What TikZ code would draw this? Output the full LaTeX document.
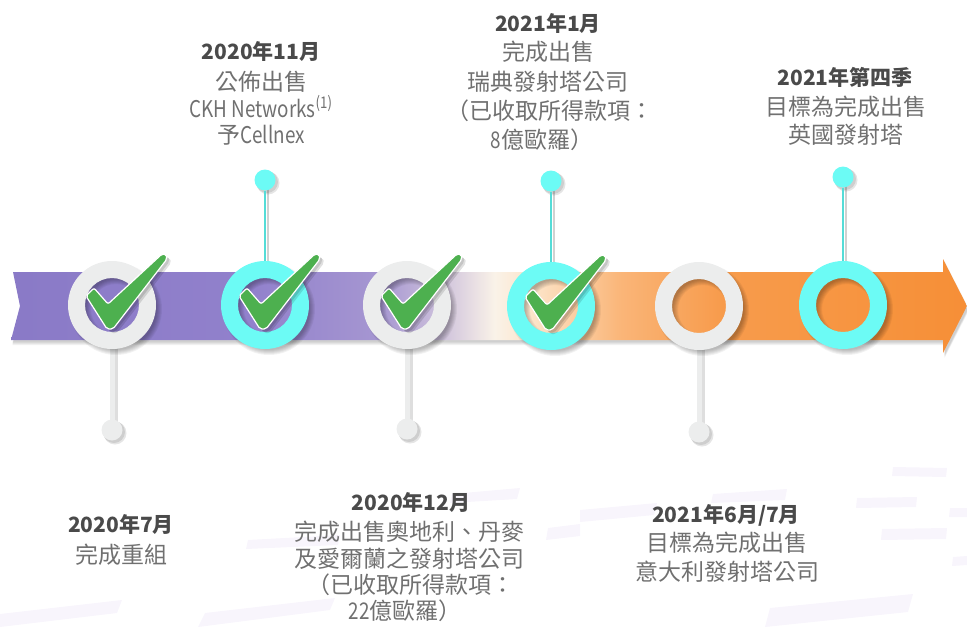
\documentclass[tikz,border=0pt]{standalone}
\usepackage{fontspec}
\setmainfont{Noto Sans CJK TC}
\definecolor{ringgray}{HTML}{ECEDED}
\definecolor{ringcyan}{HTML}{6CFBF5}
\definecolor{stemcyan}{HTML}{55DCD7}
\definecolor{checkgreen}{HTML}{4DB04F}
\definecolor{datecol}{HTML}{4A4A4A}
\definecolor{bodycol}{HTML}{707070}
\definecolor{brushcol}{HTML}{F8F5FC}
\pgfdeclarehorizontalshading{bandshade}{100bp}{rgb(0bp)=(0.540,0.478,0.780); rgb(25bp)=(0.540,0.478,0.780); rgb(37.5bp)=(0.570,0.505,0.800); rgb(44.3bp)=(0.650,0.590,0.820); rgb(47.4bp)=(0.800,0.750,0.860); rgb(50.3bp)=(0.980,0.950,0.910); rgb(52.7bp)=(0.990,0.880,0.760); rgb(56.9bp)=(0.980,0.710,0.470); rgb(62.1bp)=(0.970,0.610,0.300); rgb(75bp)=(0.965,0.560,0.215); rgb(100bp)=(0.965,0.560,0.215)}
\newcommand\cnd[1]{\scalebox{0.82}[1]{#1}}
\tikzset{
  ringnode/.style={circle,minimum size=88pt,inner sep=0pt,outer sep=0pt},
  dotgray/.style={circle,fill=ringgray,minimum size=21pt,inner sep=0pt,outer sep=0pt},
  dotcyan/.style={circle,fill=ringcyan,minimum size=21pt,inner sep=0pt,outer sep=0pt},
  stemgray/.style={draw=ringgray,line width=5pt},
  stemcyanline/.style={draw=stemcyan,line width=2.6pt},
  datetext/.style={font=\fontsize{21}{24}\selectfont\bfseries,text=datecol,inner sep=0pt,anchor=base},
  bodytext/.style={font=\fontsize{23}{28}\selectfont,text=bodycol,inner sep=0pt,anchor=base},
}
\newcommand\ringshadow[2]{%
  \foreach \k in {0,1,2,3,4,5}{%
    \fill[black,opacity=0.05,even odd rule] ($(#1)+(4,4)$) circle[radius=41+\k] ($(#1)+(4,4)$) circle[radius=30-\k];}}
\newcommand\drawring[2]{%
  \fill[#2,even odd rule] (#1) circle[radius=44] (#1) circle[radius=27];}
\newcommand\checkpath{(-26,-9) -- (-18,-17) -- (-4,-1) -- (50,-51) -- (54,-51) -- (55,-46) -- (1,24) -- (-5,24) -- cycle}
\newcommand\drawcheck[1]{%
  \begin{scope}[shift={(#1)}]
    \fill[black,opacity=0.12,rounded corners=2pt,shift={(4,4)}] \checkpath;
    \fill[black,opacity=0.12,rounded corners=2pt,shift={(2.5,2.5)}] \checkpath;
    \filldraw[fill=checkgreen,draw=white,line width=1.2pt,rounded corners=2pt] \checkpath;
  \end{scope}}
\usetikzlibrary{calc}
\begin{document}
\begin{tikzpicture}[x=1pt,y=-1pt]
\useasboundingbox (0,0) rectangle (967,627);
% faint brush strokes
\fill[brushcol] (0,614) -- (122,600) -- (117,613) -- (0,627) -- cycle;
\fill[brushcol] (205,613) -- (335,598) -- (330,610) -- (198,627) -- cycle;
\fill[brushcol] (248,540) -- (340,535) -- (338,545) -- (246,549) -- cycle;
\fill[brushcol] (452,494) -- (520,488) -- (517,499) -- (450,503) -- cycle;
\fill[brushcol] (548,528) -- (580,524) -- (580,536) -- (546,540) -- cycle;
\fill[brushcol] (580,510) -- (657,503) -- (654,515) -- (580,522) -- cycle;
\fill[brushcol] (713,494) -- (787,489) -- (785,500) -- (711,503) -- cycle;
\fill[brushcol] (893,467) -- (947,468) -- (946,477) -- (892,476) -- cycle;
\fill[brushcol] (857,498) -- (917,497) -- (916,507) -- (856,508) -- cycle;
\fill[brushcol] (882,529) -- (947,528) -- (946,539) -- (881,540) -- cycle;
\fill[brushcol] (950,508) -- (967,508) -- (967,517) -- (949,517) -- cycle;
\fill[brushcol] (953,557) -- (967,556) -- (967,565) -- (952,566) -- cycle;
\fill[brushcol] (770,608) -- (913,594) -- (908,612) -- (765,627) -- cycle;
% band shadow
\foreach \k in {1,2,3,4}{
  \fill[black,opacity=0.05,shift={(1.5,\k+1)}] (13,272) -- (943,272) -- (943,259) -- (967,306) -- (943,353) -- (943,340) -- (11,340) -- (20,306) -- cycle;}
% band
\shade[shading=bandshade] (13,272) -- (943,272) -- (943,259) -- (967,306) -- (943,353) -- (943,340) -- (11,340) -- (20,306) -- cycle;
% ring positions
\node[ringnode] (r1) at (112,305) {};
\node[ringnode] (r2) at (265,305) {};
\node[ringnode] (r3) at (407,305) {};
\node[ringnode] (r4) at (551,306) {};
\node[ringnode] (r5) at (699,306) {};
\node[ringnode] (r6) at (843,305) {};
% stem and dot shadows
\foreach \x/\y/\yy in {112/349/430,407/349/429,699/350/432}{
  \draw[black,opacity=0.13,line width=5pt] (\x+3.5,\y) -- (\x+3.5,\yy);
  \fill[black,opacity=0.10] (\x+3,\yy+3) circle[radius=11.5];
  \fill[black,opacity=0.10] (\x+2,\yy+2) circle[radius=11];}
\foreach \x/\y/\yy in {265/261/180,551/262/181,843/261/177}{
  \draw[black,opacity=0.18,line width=2pt] (\x+3,\yy) -- (\x+3,\y);
  \fill[black,opacity=0.10] (\x+3,\yy+3) circle[radius=11.5];
  \fill[black,opacity=0.10] (\x+2,\yy+2) circle[radius=11];}
% dots
\node[dotgray] (d1) at (112,430) {};
\node[dotgray] (d3) at (407,429) {};
\node[dotgray] (d5) at (699,432) {};
\node[dotcyan] (u2) at (265,180) {};
\node[dotcyan] (u4) at (551,181) {};
\node[dotcyan] (u6) at (843,177) {};
% stems
\draw[stemgray] (r1.south) -- (d1);
\draw[stemgray] (r3.south) -- (d3);
\draw[stemgray] (r5.south) -- (d5);
\draw[stemcyanline] (u2) -- (r2.north);
\draw[stemcyanline] (u4) -- (r4.north);
\draw[stemcyanline] (u6) -- (r6.north);
% ring shadows
\ringshadow{r1}{}\ringshadow{r2}{}\ringshadow{r3}{}\ringshadow{r4}{}\ringshadow{r5}{}\ringshadow{r6}{}
% rings
\drawring{r1}{ringgray}
\drawring{r2}{ringcyan}
\drawring{r3}{ringgray}
\drawring{r4}{ringcyan}
\drawring{r5}{ringgray}
\drawring{r6}{ringcyan}
% checks
\drawcheck{r1}
\drawcheck{r2}
\drawcheck{r3}
\drawcheck{r4}
% texts top
\node[datetext] (t2a) at (261,59.5) {2020年11月};
\node[bodytext] (t2b) at (261,90.7) {公佈出售};
\node[bodytext] (t2c) at (261,117.3) {\cnd{CKH Networks}\textsuperscript{\cnd{(1)}}};
\node[bodytext] (t2d) at (261,143.8) {予\cnd{Cellnex}};
\node[datetext] (t4a) at (548,31.5) {2021年1月};
\node[bodytext] (t4b) at (548,60.7) {完成出售};
\node[bodytext] (t4c) at (548,90) {瑞典發射塔公司};
\node[bodytext] (t4d) at (550,119.3) {（已收取所得款項：};
\node[bodytext] (t4e) at (542,148.6) {\cnd{8}億歐羅）};
\node[datetext] (t6a) at (845,85.5) {2021年第四季};
\node[bodytext] (t6b) at (846,115.7) {目標為完成出售};
\node[bodytext] (t6c) at (846,143.7) {英國發射塔};
% texts bottom
\node[datetext] (t1a) at (121,532.5) {2020年7月};
\node[bodytext] (t1b) at (121,563.7) {完成重組};
\node[datetext] (t3a) at (411,510.5) {2020年12月};
\node[bodytext] (t3b) at (409,540.7) {完成出售奧地利、丹麥};
\node[bodytext] (t3c) at (409,567) {及愛爾蘭之發射塔公司};
\node[bodytext] (t3d) at (411,593.3) {（已收取所得款項：};
\node[bodytext] (t3e) at (405,619.6) {\cnd{22}億歐羅）};
\node[datetext] (t5a) at (726,522.5) {2021年6月/7月};
\node[bodytext] (t5b) at (727,551.7) {目標為完成出售};
\node[bodytext] (t5c) at (727,580.7) {意大利發射塔公司};
\end{tikzpicture}
\end{document}
